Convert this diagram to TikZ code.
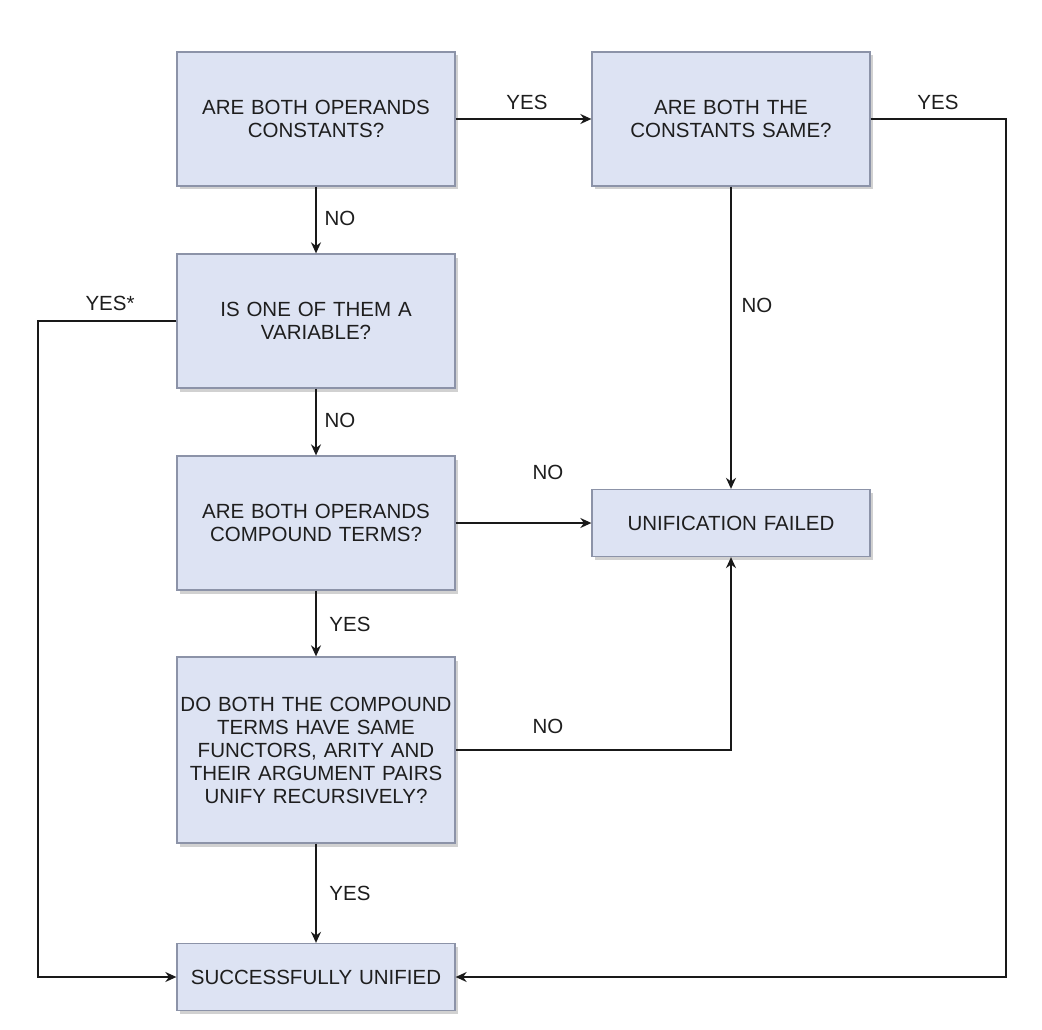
\documentclass[tikz,border=0pt]{standalone}
\usepackage{fontspec}
\setmainfont{Liberation Sans}
\usetikzlibrary{arrows.meta,shadows}
\definecolor{boxfill}{HTML}{DDE3F3}
\definecolor{boxdraw}{HTML}{8C93A8}
\definecolor{txt}{HTML}{1E1E1E}
\begin{document}
\begin{tikzpicture}[x=1pt,y=-1pt,
  box/.style={draw=boxdraw, fill=boxfill, line width=1.3pt, minimum width=278pt,
    text width=276pt, align=center, inner sep=0pt, text=txt,
    font=\fontsize{20.5}{23}\selectfont,
    drop shadow={shadow xshift=2.5pt, shadow yshift=-3.5pt, fill=black!45, opacity=0.4}},
  lbl/.style={text=txt, font=\fontsize{20.5}{23}\selectfont, inner sep=0pt},
  conn/.style={draw=black!90, line width=1.5pt},
  arr/.style={conn, -{Stealth[length=11pt,width=10pt]}}]
\useasboundingbox[fill=white] (0,0) rectangle (1042,1030);

\node[box, minimum height=134pt] (a) at (316,119) {ARE BOTH OPERANDS\\CONSTANTS?};
\node[box, minimum height=134pt] (b) at (731,119) {ARE BOTH THE\\CONSTANTS SAME?};
\node[box, minimum height=134pt] (c) at (316,321) {IS ONE OF THEM A\\VARIABLE?};
\node[box, minimum height=134pt] (d) at (316,523) {ARE BOTH OPERANDS\\COMPOUND TERMS?};
\node[box, minimum height=67pt] (e) at (731,523) {UNIFICATION FAILED};
\node[box, minimum height=186pt] (f) at (316,750) {DO BOTH THE COMPOUND\\TERMS HAVE SAME\\FUNCTORS, ARITY AND\\THEIR ARGUMENT PAIRS\\UNIFY RECURSIVELY?};
\node[box, minimum height=67pt] (g) at (316,977) {SUCCESSFULLY UNIFIED};

\coordinate (cl) at (38,321);
\coordinate (gl) at (38,977);
\coordinate (br) at (1006,119);
\coordinate (gr) at (1006,977);
\coordinate (fe) at (731,750);

\draw[arr] (a.east) -- (b.west);
\draw[arr] (a.south) -- (c.north);
\draw[arr] (c.south) -- (d.north);
\draw[arr] (d.south) -- (f.north);
\draw[arr] (f.south) -- (g.north);
\draw[arr] (b.south) -- (e.north);
\draw[arr] (d.east) -- (e.west);
\draw[arr] (f.east) -- (fe) -- (e.south);
\draw[arr] (c.west) -- (cl) -- (gl) -- (g.west);
\draw[arr] (b.east) -- (br) -- (gr) -- (g.east);

\node[lbl] (l1) at (527,102) {YES};
\node[lbl] (l2) at (938,102) {YES};
\node[lbl] (l3) at (340,218) {NO};
\node[lbl] (l4) at (110,303) {YES*};
\node[lbl] (l5) at (757,305) {NO};
\node[lbl] (l6) at (340,420) {NO};
\node[lbl] (l7) at (548,472) {NO};
\node[lbl] (l8) at (350,624) {YES};
\node[lbl] (l9) at (548,726) {NO};
\node[lbl] (l10) at (350,893) {YES};
\end{tikzpicture}
\end{document}
